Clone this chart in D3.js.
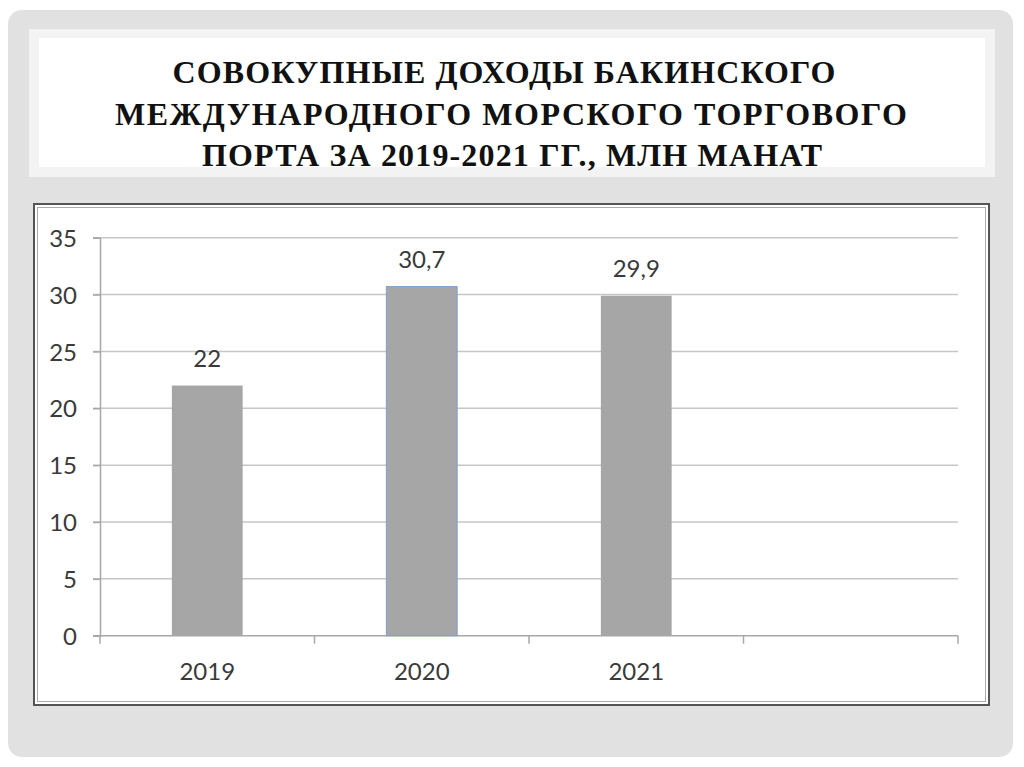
<!DOCTYPE html>
<html lang="ru">
<head>
  <meta charset="UTF-8">
  <title>Совокупные доходы БММТП</title>
  <script src="https://d3js.org/d3.v7.min.js"></script>
  <style>
    body { margin: 0; background: #fff; }
    svg { display: block; }
    .tick-label { font-family: Lato, "Open Sans", sans-serif; font-size: 24px; fill: #3a3a3a; }
    .title { font-family: "Liberation Serif", "Times New Roman", serif; font-weight: bold; font-size: 32px; fill: #111; }
  </style>
</head>
<body>
<svg id="chart" width="1024" height="767"></svg>
<script>
  // chart data
  const categories = ["2019", "2020", "2021", ""];
  const values = [22, 30.7, 29.9, null];
  const valueLabels = ["22", "30,7", "29,9", ""];
  const yTicks = [0, 5, 10, 15, 20, 25, 30, 35];
  const titleLines = [
    "СОВОКУПНЫЕ ДОХОДЫ БАКИНСКОГО",
    "МЕЖДУНАРОДНОГО МОРСКОГО ТОРГОВОГО",
    "ПОРТА ЗА 2019-2021 ГГ., МЛН МАНАТ"
  ];

  const svg = d3.select("#chart");

  // slide background
  svg.append("rect")
     .attr("x", 8).attr("y", 10).attr("width", 1005).attr("height", 747)
     .attr("rx", 14).attr("fill", "#e1e1e1");

  // title box
  svg.append("rect")
     .attr("x", 29).attr("y", 29).attr("width", 966).attr("height", 148)
     .attr("fill", "#f3f3f3");
  svg.append("rect")
     .attr("x", 39).attr("y", 38).attr("width", 946).attr("height", 129)
     .attr("fill", "#fff");

  const titleWidths = [663, 792, 620];
  const titleCenters = [504, 511, 512];
  svg.selectAll(".title")
     .data(titleLines)
     .enter()
     .append("text")
     .attr("class", "title")
     .attr("x", (d, i) => titleCenters[i])
     .attr("y", (d, i) => 83 + i * 41.5)
     .attr("text-anchor", "middle")
     .attr("textLength", (d, i) => titleWidths[i])
     .attr("lengthAdjust", "spacing")
     .text(d => d);

  // chart box with double border
  svg.append("rect")
     .attr("x", 34).attr("y", 204).attr("width", 955).attr("height", 501)
     .attr("fill", "#fff").attr("stroke", "#555").attr("stroke-width", 2);
  svg.append("rect")
     .attr("x", 37.5).attr("y", 207.5).attr("width", 948).attr("height", 494)
     .attr("fill", "none").attr("stroke", "#aaa").attr("stroke-width", 1);

  // scales
  const plotLeft = 100, plotRight = 958, plotTop = 237.7, plotBottom = 635.7;
  const x = d3.scaleBand().domain(categories.map((c, i) => i)).range([plotLeft, plotRight]).padding(0);
  const y = d3.scaleLinear().domain([0, 35]).range([plotBottom, plotTop]);

  const g = svg.append("g");

  // gridlines
  g.selectAll(".grid")
   .data(yTicks.filter(t => t > 0))
   .enter()
   .append("line")
   .attr("x1", plotLeft - 7).attr("x2", plotRight)
   .attr("y1", d => y(d)).attr("y2", d => y(d))
   .attr("stroke", "#c6c6c6").attr("stroke-width", 1.5);

  // y axis
  const yAxis = g.append("g")
   .attr("transform", `translate(${plotLeft},0)`)
   .call(d3.axisLeft(y).tickValues(yTicks).tickSize(7).tickPadding(16));
  yAxis.select(".domain").attr("stroke", "#a8a8a8").attr("stroke-width", 1.5);
  yAxis.selectAll(".tick line").attr("stroke", "#a8a8a8").attr("stroke-width", 1.5);
  yAxis.selectAll(".tick text").attr("class", "tick-label").attr("font-size", null)
       .attr("font-family", null).attr("fill", null).attr("dy", "0.36em");
  yAxis.attr("font-size", null).attr("font-family", null);

  // x axis line and tick marks at band edges
  const edges = categories.map((c, i) => x(i)).concat([plotRight]);
  g.append("line")
   .attr("x1", plotLeft - 7).attr("x2", plotRight)
   .attr("y1", plotBottom).attr("y2", plotBottom)
   .attr("stroke", "#a8a8a8").attr("stroke-width", 1.5);
  g.selectAll(".xtick")
   .data(edges)
   .enter()
   .append("line")
   .attr("x1", d => d).attr("x2", d => d)
   .attr("y1", plotBottom).attr("y2", plotBottom + 8)
   .attr("stroke", "#a8a8a8").attr("stroke-width", 1.5);

  // x labels
  g.selectAll(".xlabel")
   .data(categories)
   .enter()
   .append("text")
   .attr("class", "tick-label")
   .attr("x", (d, i) => x(i) + x.bandwidth() / 2)
   .attr("y", plotBottom + 44)
   .attr("text-anchor", "middle")
   .text(d => d);

  // bars
  const barW = x.bandwidth() * 0.33;
  const bars = categories.map((c, i) => ({ i, v: values[i], label: valueLabels[i] })).filter(d => d.v != null);
  g.selectAll(".bar")
   .data(bars)
   .enter()
   .append("rect")
   .attr("x", d => x(d.i) + (x.bandwidth() - barW) / 2)
   .attr("y", d => y(d.v))
   .attr("width", barW)
   .attr("height", d => plotBottom - y(d.v))
   .attr("fill", "#a6a6a6")
   .attr("stroke", d => d.i === 1 ? "#7f9fcb" : "none")
   .attr("stroke-width", 1);

  // value labels
  g.selectAll(".vlabel")
   .data(bars)
   .enter()
   .append("text")
   .attr("class", "tick-label")
   .attr("x", d => x(d.i) + x.bandwidth() / 2)
   .attr("y", d => y(d.v) - 19)
   .attr("text-anchor", "middle")
   .text(d => d.label);
</script>
</body>
</html>
